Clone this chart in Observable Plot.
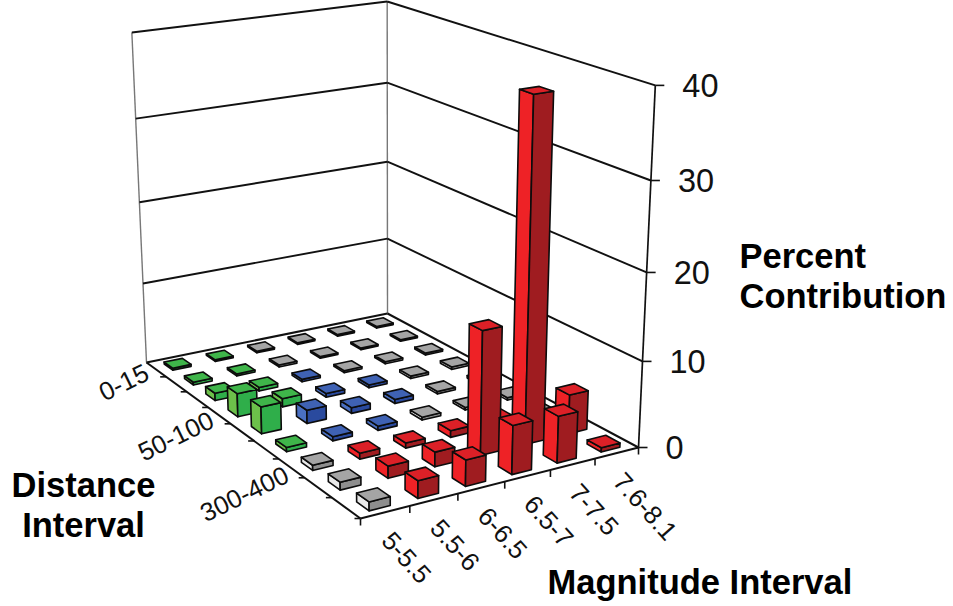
<!DOCTYPE html>
<html>
<head>
<meta charset="utf-8">
<script src="https://cdn.jsdelivr.net/npm/d3@7"></script>
<script src="https://cdn.jsdelivr.net/npm/@observablehq/plot@0.6"></script>
<style>html,body{margin:0;padding:0;background:#fff;overflow:hidden}svg{display:block}</style>
</head>
<body>
<div id="chart"></div>
<script>
const magnitudeLabels = ["5-5.5","5.5-6","6-6.5","6.5-7","7-7.5","7.6-8.1"];
const distanceLabels = ["0-15","","","50-100","","","300-400","",""];
const percentTicks = [0,10,20,30,40];

// percent contribution: one array per distance interval, one value per magnitude interval
const row0 = [0.25,0.2,0.2,0.2,0.2,0.2];
const row1 = [0.35,0.25,0.25,0.2,0.2,0.2];
const row2 = [0.9,0.45,0.3,0.25,0.25,0.25];
const row3 = [2.8,1.0,0.45,0.35,0.3,0.3];
const row4 = [3.2,1.6,0.7,0.5,0.3,0.3];
const row5 = [0.5,0.5,0.5,0.35,0.3,0.3];
const row6 = [0.6,0.7,0.6,0.8,0.8,0.3];
const row7 = [0.9,1.4,1.7,14.3,38.9,4.6];
const row8 = [1.0,2.0,3.0,5.6,5.4,0.5];
const values = [row0,row1,row2,row3,row4,row5,row6,row7,row8];

// colour band of each cell
const band0 = "GGAAAA", band1 = "GGAAAA", band2 = "GGBAAA", band3 = "GGBBAA", band4 = "GBBBAA",
      band5 = "GBBAAA", band6 = "ARRRRA", band7 = "ARRRRR", band8 = "ARRRRR";
const bands = [band0,band1,band2,band3,band4,band5,band6,band7,band8];
const palette = {
  R:{top:"#dc2027",left:"#ee2226",right:"#9f1c20"},
  G:{top:"#3fb54a",left:"#6cc04a",right:"#2fae4a"},
  B:{top:"#3f62b4",left:"#4a70c2",right:"#2a4a9e"},
  A:{top:"#a5a5a5",left:"#e8e8e8",right:"#8e8e8e"}
};

const maxPercent = 40, halfBar = 0.215, rowDrift = 0.012;
const nCols = magnitudeLabels.length, nRows = distanceLabels.length;

// perspective camera: u along magnitude, v along distance, h up
function project(u, v, h) {
  const w = 1 + 0.06335*u - 0.19029*v - 0.056*h;
  return {
    x: (146 + 265.52*u + 145.5*v - 22*h) / w,
    y: (362 - 29.17*u + 57.43*v + (-331.8 + 10.9*v)*h) / w
  };
}
const P = (u, v, pct) => project(u, v, pct / maxPercent);
const rowCentre = j => j + .5 + rowDrift * j;

// bar faces, painted back to front
const faces = [];
function face(id, fill, corners) {
  [...corners, corners[0]].forEach(c => faces.push({id, fill, ...P(...c)}));
}
values.forEach((vals, j) => {
  d3.range(nCols - 1, -1, -1).forEach(i => {
    const val = vals[i], c = palette[bands[j][i]];
    const u0=(i+.5-halfBar)/nCols, u1=(i+.5+halfBar)/nCols, v0=(rowCentre(j)-halfBar)/nRows, v1=(rowCentre(j)+halfBar)/nRows;
    face(`${j}-${i}-l`, c.left, [[u0,v0,0],[u0,v1,0],[u0,v1,val],[u0,v0,val]]);
    face(`${j}-${i}-r`, c.right, [[u0,v1,0],[u1,v1,0],[u1,v1,val],[u0,v1,val]]);
    face(`${j}-${i}-t`, c.top, [[u0,v0,val],[u1,v0,val],[u1,v1,val],[u0,v1,val]]);
  });
});

// walls and floor
const seg = (a, b) => { const p=P(...a), q=P(...b); return {x1:p.x,y1:p.y,x2:q.x,y2:q.y}; };
const gridLines = percentTicks.slice(1).flatMap(t => [seg([0,0,t],[1,0,t]), seg([1,0,t],[1,1,t])]);
const floorLines = [seg([0,0,0],[0,1,0]), seg([0,1,0],[1,1,0]), seg([0,0,0],[1,0,0]), seg([1,0,0],[1,1,0])];
const wallVerticals = [seg([0,0,0],[0,0,40]), seg([1,0,0],[1,0,40])];
const rightAxis = seg([1,1,0],[1,1,40]);

const yTicks = percentTicks.map(t => ({t, ...P(1,1,t)}));
const distTicks = d3.range(1,nRows+1).map(j => P(0,j/nRows,0));
const magTicks = d3.range(0,nCols+1).map(i => P(i/nCols,1,0));

const distText = distanceLabels.map((s,j) => ({s, ...P(0,(j+.5+.03*j)/nRows,0)})).filter(d => d.s);
const magText = magnitudeLabels.map((s,i) => ({s, ...P((i+.5)/nCols,1,0)}));

const font = "Liberation Sans, Arial, sans-serif", ink = "#111";
const titleStyle = {fontFamily:font, fontWeight:"bold", fontSize:34.5, fill:"#000", lineAnchor:"middle"};

const chart = Plot.plot({
  width:953, height:606, margin:0,
  x:{domain:[0,953], range:[0,953], axis:null},
  y:{domain:[0,606], range:[0,606], axis:null},
  color:{type:"identity"},
  style:{background:"#fff"},
  marks:[
    Plot.link(wallVerticals,{x1:"x1",y1:"y1",x2:"x2",y2:"y2",stroke:"#777",strokeWidth:1.4}),
    Plot.link(gridLines,{x1:"x1",y1:"y1",x2:"x2",y2:"y2",stroke:ink,strokeWidth:1.9}),
    Plot.link(floorLines,{x1:"x1",y1:"y1",x2:"x2",y2:"y2",stroke:ink,strokeWidth:2}),
    Plot.link([rightAxis],{x1:"x1",y1:"y1",x2:"x2",y2:"y2",stroke:ink,strokeWidth:1.7}),
    Plot.link(yTicks,{x1:"x",y1:"y",x2:d=>d.x+9,y2:"y",stroke:ink,strokeWidth:1.6}),
    Plot.link(distTicks,{x1:"x",y1:"y",x2:d=>d.x-6,y2:"y",stroke:ink,strokeWidth:1.6}),
    Plot.link(magTicks,{x1:"x",y1:"y",x2:"x",y2:d=>d.y+7,stroke:ink,strokeWidth:1.6}),
    Plot.line(faces,{x:"x",y:"y",z:"id",fill:"fill",stroke:"#0c0c0c",strokeWidth:1.6,strokeLinejoin:"round"}),
    Plot.text(yTicks,{x:d=>d.x+27,y:d=>d.y+1,text:d=>String(d.t),textAnchor:"start",fontFamily:font,fontSize:32.5,fill:ink}),
    Plot.text(distText,{x:d=>d.x-9,y:d=>d.y+2,text:"s",textAnchor:"end",rotate:-26,fontFamily:font,fontSize:25.8,fill:ink}),
    Plot.text(magText,{x:d=>d.x+1,y:d=>d.y+24,text:"s",textAnchor:"start",rotate:48,fontFamily:font,fontSize:25.8,fill:ink}),
    Plot.text(["Percent","Contribution"],{x:[739,739],y:[256,296],text:d=>d,textAnchor:"start",...titleStyle}),
    Plot.text(["Distance","Interval"],{x:[83,83],y:[485,525],text:d=>d,textAnchor:"middle",...titleStyle}),
    Plot.text(["Magnitude Interval"],{x:[547],y:[582],text:d=>d,textAnchor:"start",...titleStyle})
  ]
});
document.getElementById("chart").append(chart);
</script>
</body>
</html>
